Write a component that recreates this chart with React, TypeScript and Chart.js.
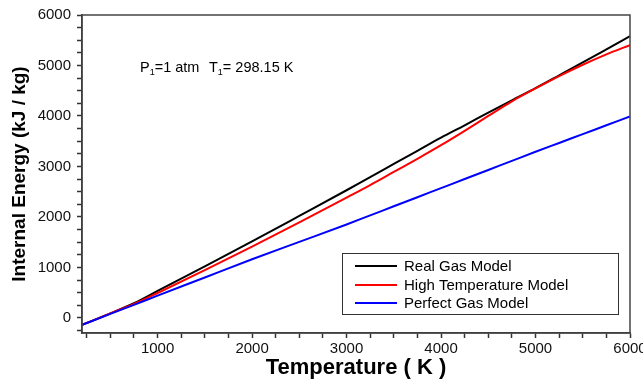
import React, { useEffect, useRef } from 'react';
import { Chart, registerables } from 'chart.js';

Chart.register(...registerables);

const FONT = "'Liberation Sans', Arial, sans-serif";

const temps = [200, 500, 750, 1000, 1500, 2000, 2500, 3000, 3250, 3500, 3750, 4000, 4250, 4500, 4750, 5000, 5250, 5500, 5750, 6000];
const realGas = [-140, 90, 290, 533, 1020, 1515, 2020, 2528, 2790, 3050, 3310, 3570, 3815, 4065, 4310, 4552, 4805, 5060, 5320, 5582];
const highTemp = [-140, 88, 275, 493, 945, 1410, 1890, 2381, 2630, 2890, 3150, 3420, 3705, 4000, 4290, 4545, 4790, 5015, 5220, 5404];
const perfectGas = [-140, 80, 258, 440, 800, 1160, 1505, 1850, 2030, 2210, 2390, 2570, 2750, 2930, 3110, 3290, 3465, 3640, 3815, 3990];

const xMin = 200, xMax = 6000, yMin = -300, yMax = 6000;
const minorStep = 250;
const majorStep = 1000;

const seriesLabels = ['Real Gas Model', 'High Temperature Model', 'Perfect Gas Model'];
const seriesColors = ['#000000', '#ff0000', '#0000ff'];
const xTitle = 'Temperature ( K )';
const yTitle = 'Internal Energy (kJ / kg)';

const toPoints = (ys: number[]) => temps.map((t, i) => ({ x: t, y: ys[i] }));

const buildTicks = (lo: number, hi: number) => {
  const out: { value: number }[] = [];
  for (let v = Math.ceil(lo / minorStep) * minorStep; v <= hi; v += minorStep) {
    if (v > lo) out.push({ value: v });
  }
  return out;
};

const decorPlugin = {
  id: 'decor',
  afterDatasetsDraw(chart: any) {
    const { ctx, chartArea } = chart;
    ctx.save();
    ctx.strokeStyle = '#444';
    ctx.lineWidth = 1.5;
    ctx.strokeRect(chartArea.left, chartArea.top, chartArea.right - chartArea.left, chartArea.bottom - chartArea.top);

    ctx.fillStyle = '#000';
    ctx.textBaseline = 'alphabetic';
    ctx.textAlign = 'left';
    const drawSub = (x: number, y: number, main: string, sub: string, rest: string) => {
      ctx.font = `14.5px ${FONT}`;
      ctx.fillText(main, x, y);
      let cx = x + ctx.measureText(main).width;
      ctx.font = `9px ${FONT}`;
      ctx.fillText(sub, cx, y + 3);
      cx += ctx.measureText(sub).width;
      ctx.font = `14.5px ${FONT}`;
      ctx.fillText(rest, cx, y);
    };
    drawSub(140, 72, 'P', '1', '=1 atm');
    drawSub(209, 72, 'T', '1', '= 298.15 K');

    const bx = 342.5, by = 253.5, bw = 276, bh = 61;
    ctx.fillStyle = '#fff';
    ctx.fillRect(bx, by, bw, bh);
    ctx.strokeStyle = '#333';
    ctx.lineWidth = 1;
    ctx.strokeRect(bx, by, bw, bh);
    const rows = [266, 285, 303];
    ctx.font = `15px ${FONT}`;
    ctx.textBaseline = 'middle';
    seriesLabels.forEach((lab, i) => {
      ctx.strokeStyle = seriesColors[i];
      ctx.lineWidth = 2;
      ctx.beginPath();
      ctx.moveTo(355, rows[i]);
      ctx.lineTo(397, rows[i]);
      ctx.stroke();
      ctx.fillStyle = '#000';
      ctx.fillText(lab, 404, rows[i] + 1);
    });
    ctx.restore();
  },
};

export default function App() {
  const ref = useRef<HTMLCanvasElement>(null);
  useEffect(() => {
    if (!ref.current) return;
    const datasets = [realGas, highTemp, perfectGas].map((ys, i) => ({
      label: seriesLabels[i],
      data: toPoints(ys),
      borderColor: seriesColors[i],
      backgroundColor: seriesColors[i],
      borderWidth: 2,
      pointRadius: 0,
      cubicInterpolationMode: 'monotone' as const,
      order: 2 - i,
    }));
    const tickCb = (v: any) => (Math.round(Number(v)) % majorStep === 0 ? String(Math.round(Number(v))) : '');
    const chart = new Chart(ref.current, {
      type: 'line',
      data: { datasets },
      plugins: [decorPlugin],
      options: {
        responsive: false,
        animation: false,
        layout: { padding: { left: 0, right: 13, top: 15, bottom: 0 } },
        plugins: { legend: { display: false }, tooltip: { enabled: false } },
        scales: {
          x: {
            type: 'linear',
            min: xMin,
            max: xMax,
            afterBuildTicks: (s: any) => { s.ticks = buildTicks(xMin, xMax); },
            afterFit: (s: any) => { s.height = 48; s.paddingRight = 0; s.paddingLeft = 0; },
            ticks: {
              autoSkip: false,
              maxRotation: 0,
              callback: tickCb,
              color: '#111',
              padding: 2,
              font: { size: 15, family: FONT },
            },
            grid: { drawOnChartArea: false, drawTicks: true, tickLength: 5, tickColor: '#333', tickWidth: 1.5 },
            border: { display: true, color: '#333', width: 1.5 },
            title: {
              display: true,
              text: xTitle,
              color: '#000',
              font: { size: 22, weight: 'bold', family: FONT },
              padding: { top: 0, bottom: 0 },
            },
          },
          y: {
            type: 'linear',
            min: yMin,
            max: yMax,
            afterBuildTicks: (s: any) => { s.ticks = buildTicks(yMin, yMax); },
            afterFit: (s: any) => { s.width = 82; s.paddingTop = 0; s.paddingBottom = 0; },
            ticks: {
              autoSkip: false,
              callback: tickCb,
              color: '#111',
              padding: 6,
              font: { size: 15, family: FONT },
            },
            grid: { drawOnChartArea: false, drawTicks: true, tickLength: 5, tickColor: '#333', tickWidth: 1.5 },
            border: { display: true, color: '#333', width: 1.5 },
            title: {
              display: true,
              text: yTitle,
              color: '#000',
              font: { size: 19, weight: 'bold', family: FONT },
              padding: { top: 8, bottom: 0 },
            },
          },
        },
      },
    });
    return () => chart.destroy();
  }, []);
  return (
    <div style={{ position: 'fixed', left: 0, top: 0, width: 643, height: 381, background: '#fff' }}>
      <canvas ref={ref} width={643} height={381} />
    </div>
  );
}
